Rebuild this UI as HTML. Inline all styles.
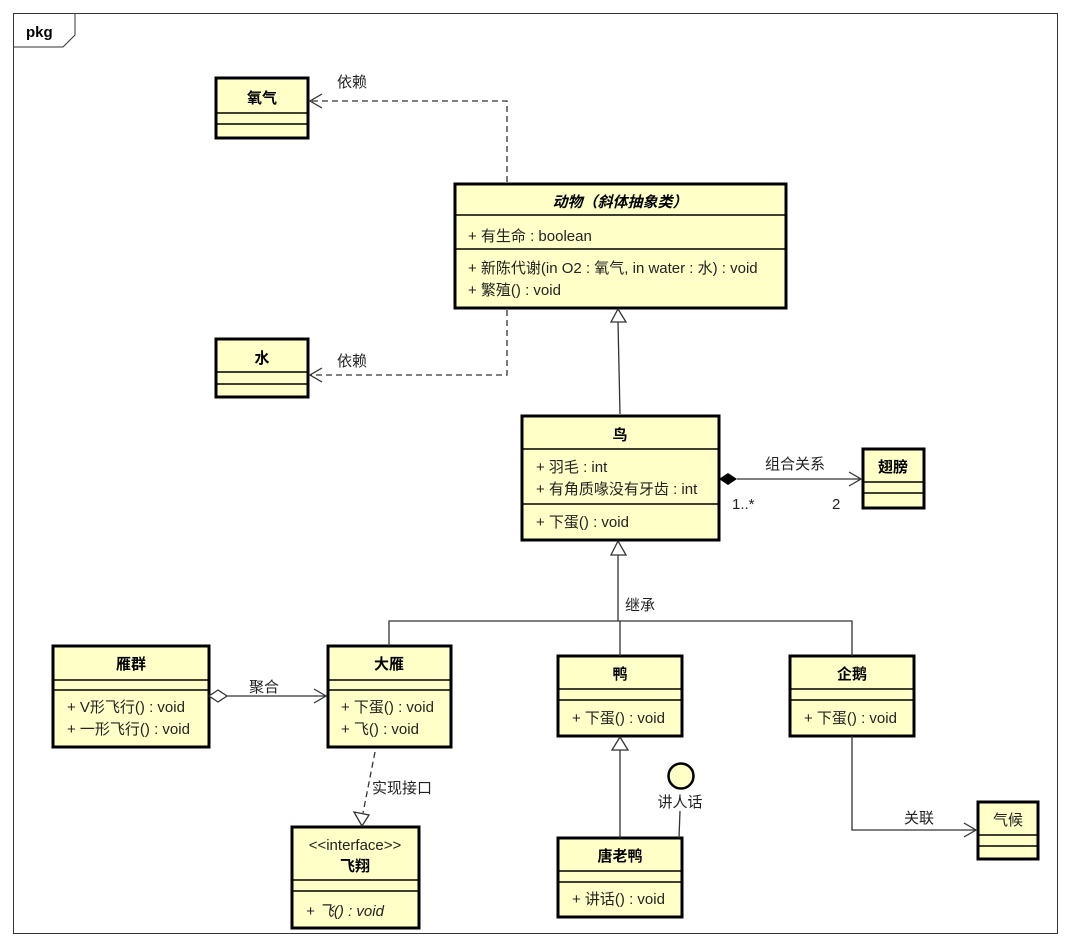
<!DOCTYPE html>
<html><head><meta charset="utf-8"><style>
body{margin:0;background:#fff}
text{font-family:"Liberation Sans","Noto Sans CJK SC",sans-serif;font-size:15px;fill:#222}
.b{font-weight:bold;fill:#000}
.box{fill:#ffffc8;stroke:#000;stroke-width:3}
.sep{stroke:#000;stroke-width:1.5}
.ln{stroke:#333;stroke-width:1.3;fill:none}
.d{stroke-dasharray:6,4}
</style></head><body>
<svg width="1072" height="946" xmlns="http://www.w3.org/2000/svg">
<rect x="13.5" y="13.5" width="1044" height="920" fill="none" stroke="#333" stroke-width="1"/>
<polyline points="13.5,47 63,47 75,35 75,13.5" fill="none" stroke="#333"/>
<text x="26" y="37" class="b">pkg</text>

<rect class="box" x="216" y="78" width="92" height="60"/>
<line class="sep" x1="216" y1="113" x2="308" y2="113"/><line class="sep" x1="216" y1="124" x2="308" y2="124"/>
<text x="262" y="103" class="b" text-anchor="middle">氧气</text>
<rect class="box" x="216" y="339" width="92" height="58"/>
<line class="sep" x1="216" y1="372" x2="308" y2="372"/><line class="sep" x1="216" y1="384" x2="308" y2="384"/>
<text x="262" y="363" class="b" text-anchor="middle">水</text>
<rect class="box" x="455" y="184" width="331" height="124"/>
<line class="sep" x1="455" y1="215" x2="786" y2="215"/><line class="sep" x1="455" y1="249" x2="786" y2="249"/>
<text x="620" y="207" class="b" text-anchor="middle" font-style="italic">动物（斜体抽象类）</text>
<text x="468" y="241">+ 有生命 : boolean</text>
<text x="468" y="273">+ 新陈代谢(in O2 : 氧气, in water : 水) : void</text>
<text x="468" y="295">+ 繁殖() : void</text>
<rect class="box" x="522" y="416" width="197" height="124"/>
<line class="sep" x1="522" y1="449" x2="719" y2="449"/><line class="sep" x1="522" y1="504" x2="719" y2="504"/>
<text x="620" y="440" class="b" text-anchor="middle">鸟</text>
<text x="536" y="472">+ 羽毛 : int</text>
<text x="536" y="494">+ 有角质喙没有牙齿 : int</text>
<text x="536" y="527">+ 下蛋() : void</text>
<rect class="box" x="863" y="449" width="61" height="59"/>
<line class="sep" x1="863" y1="482" x2="924" y2="482"/><line class="sep" x1="863" y1="493" x2="924" y2="493"/>
<text x="893" y="472" class="b" text-anchor="middle">翅膀</text>
<rect class="box" x="53" y="646" width="156" height="101"/>
<line class="sep" x1="53" y1="680" x2="209" y2="680"/><line class="sep" x1="53" y1="690" x2="209" y2="690"/>
<text x="131" y="669" class="b" text-anchor="middle">雁群</text>
<text x="67" y="712">+ V形飞行() : void</text>
<text x="67" y="734">+ 一形飞行() : void</text>
<rect class="box" x="328" y="646" width="123" height="101"/>
<line class="sep" x1="328" y1="680" x2="451" y2="680"/><line class="sep" x1="328" y1="690" x2="451" y2="690"/>
<text x="389" y="669" class="b" text-anchor="middle">大雁</text>
<text x="341" y="712">+ 下蛋() : void</text>
<text x="341" y="734">+ 飞() : void</text>
<rect class="box" x="558" y="656" width="124" height="80"/>
<line class="sep" x1="558" y1="689" x2="682" y2="689"/><line class="sep" x1="558" y1="700" x2="682" y2="700"/>
<text x="620" y="679" class="b" text-anchor="middle">鸭</text>
<text x="572" y="723">+ 下蛋() : void</text>
<rect class="box" x="790" y="656" width="124" height="80"/>
<line class="sep" x1="790" y1="689" x2="914" y2="689"/><line class="sep" x1="790" y1="700" x2="914" y2="700"/>
<text x="852" y="679" class="b" text-anchor="middle">企鹅</text>
<text x="804" y="723">+ 下蛋() : void</text>
<rect class="box" x="292" y="827" width="127" height="101"/>
<line class="sep" x1="292" y1="880" x2="419" y2="880"/><line class="sep" x1="292" y1="891" x2="419" y2="891"/>
<text x="355" y="850" text-anchor="middle">&lt;&lt;interface&gt;&gt;</text>
<text x="355" y="871" class="b" text-anchor="middle">飞翔</text>
<text x="306" y="916" font-style="italic">+ 飞() : void</text>
<rect class="box" x="558" y="838" width="124" height="79"/>
<line class="sep" x1="558" y1="871" x2="682" y2="871"/><line class="sep" x1="558" y1="882" x2="682" y2="882"/>
<text x="620" y="861" class="b" text-anchor="middle">唐老鸭</text>
<text x="572" y="904">+ 讲话() : void</text>
<rect class="box" x="978" y="802" width="60" height="57"/>
<line class="sep" x1="978" y1="835" x2="1038" y2="835"/><line class="sep" x1="978" y1="846" x2="1038" y2="846"/>
<text x="1008" y="825" text-anchor="middle">气候</text>

<polyline class="ln d" points="507,182 507,101 310,101"/>
<polyline class="ln" points="322,94 310,101 322,108"/>
<text x="337" y="87">依赖</text>
<polyline class="ln d" points="507,310 507,375 310,375"/>
<polyline class="ln" points="322,368 310,375 322,382"/>
<text x="337" y="366">依赖</text>
<line class="ln" x1="620" y1="414" x2="618" y2="322"/>
<polygon points="618,309 611,322 626,322" fill="#fff" stroke="#333" stroke-width="1.3"/>
<polygon points="618,541 611,555 626,555" fill="#fff" stroke="#333" stroke-width="1.3"/>
<polyline class="ln" points="618,555 618,621"/>
<polyline class="ln" points="389,646 389,621 852,621 852,656"/>
<line class="ln" x1="620" y1="621" x2="620" y2="656"/>
<text x="625" y="610">继承</text>
<polygon points="719,479 728,473 737,479 728,485" fill="#000"/>
<line class="ln" x1="737" y1="479" x2="861" y2="479"/>
<polyline class="ln" points="849,472 861,479 849,486"/>
<text x="765" y="469">组合关系</text>
<text x="732" y="509">1..*</text>
<text x="832" y="509">2</text>
<polygon points="209,696 218,690 227,696 218,702" fill="#fff" stroke="#333" stroke-width="1.3"/>
<line class="ln" x1="227" y1="696" x2="326" y2="696"/>
<polyline class="ln" points="314,689 326,696 314,703"/>
<text x="249" y="692">聚合</text>
<line class="ln d" x1="375" y1="752" x2="363" y2="813"/>
<polygon points="362,826 354,812 369,815" fill="#fff" stroke="#333" stroke-width="1.3"/>
<text x="372" y="793">实现接口</text>
<line class="ln" x1="620" y1="838" x2="620" y2="750"/>
<polygon points="620,737 612,750 628,750" fill="#fff" stroke="#333" stroke-width="1.3"/>
<circle cx="681" cy="776" r="12.5" fill="#ffffc8" stroke="#000" stroke-width="2.5"/>
<text x="680" y="807" text-anchor="middle" fill="#000">讲人话</text>
<line class="ln" x1="680" y1="811" x2="679" y2="838"/>
<polyline class="ln" points="852,736 852,830 976,830"/>
<polyline class="ln" points="964,823 976,830 964,837"/>
<text x="904" y="823">关联</text>
</svg>
</body></html>
